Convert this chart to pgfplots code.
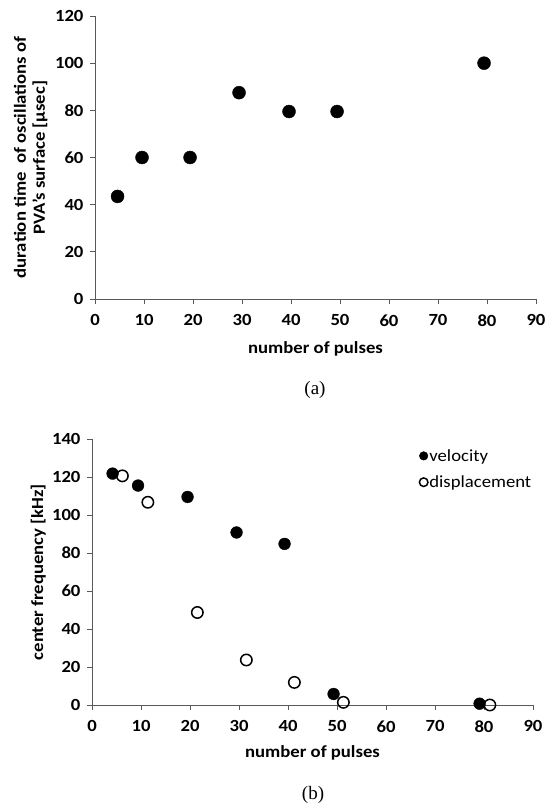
\documentclass[border=0pt]{standalone}
\usepackage{fontspec}
\setmainfont{Carlito}[FakeStretch=1.1]
\newfontfamily\serif{Liberation Serif}
\usepackage{pgfplots}
\pgfplotsset{compat=1.18}
\begin{document}
\begin{tikzpicture}
\useasboundingbox (0pt,0pt) rectangle (545pt,-809pt);
\pgfplotsset{
 common/.style={
  scale only axis, axis lines=left, axis line style={-, black!65, line width=0.8pt},
  tick align=outside, major tick length=5pt, tick style={black!65, line width=0.7pt},
  xmin=0, xmax=90, xtick={0,10,...,90}, ymin=0,
  ticklabel style={font=\fontsize{17}{20}\selectfont\bfseries},
  /pgf/number format/assume math mode=true,
  xticklabel style={yshift=-7pt}, yticklabel style={xshift=-3pt},
  label style={font=\fontsize{17}{19}\selectfont\bfseries},
  clip=false,
 }
}
\begin{axis}[common, at={(95pt,-299pt)}, anchor=south west, width=441pt, height=283pt,
  ymax=120, ytick={0,20,...,120},
  xlabel={number of pulses}, xlabel style={at={(axis description cs:0.5,-0.177)}, anchor=center},
  ylabel={duration time\ \ of oscillations of\\PVA's surface [µsec]},
  ylabel style={at={(axis description cs:-0.146,0.5)}, anchor=center, align=center}]
\addplot[only marks, mark=*, mark size=6.5pt, mark options={fill=black, draw=black}]
 coordinates {(4.6,43.5) (9.6,60) (19.4,60) (29.4,87.5) (39.6,79.5) (49.4,79.5) (79.4,100)};
\end{axis}
\begin{axis}[common, at={(92pt,-705pt)}, anchor=south west, width=441pt, height=266pt,
  ymax=140, ytick={0,20,...,140},
  xlabel={number of pulses}, xlabel style={at={(axis description cs:0.5,-0.180)}, anchor=center},
  ylabel={center frequency [kHz]},
  ylabel style={at={(axis description cs:-0.122,0.5)}, anchor=center},
  legend style={at={(axis description cs:0.741,0.966)}, anchor=north west, draw=none, fill=none,
    inner sep=0pt, row sep=11pt, column sep=0pt, font=\fontsize{17}{20}\selectfont, nodes={inner sep=1pt, anchor=west}},
  legend cell align=left,
  legend image code/.code={\path (-4.5pt,0pt) (4.5pt,0pt); \draw[#1] plot coordinates {(0pt,0pt)};},
  legend image post style={mark size=4.3pt}]
\addplot[only marks, mark=*, mark size=5.9pt, mark options={fill=black, draw=black}]
 coordinates {(4.2,121.8) (9.4,115.5) (19.5,109.5) (29.5,90.8) (39.3,84.8) (49.3,5.8) (79.1,0.7)};
\addlegendentry{velocity}
\addplot[only marks, mark=o, mark size=5.7pt, mark options={draw=black, line width=1.5pt}]
 coordinates {(6.2,120.6) (11.4,106.7) (21.5,48.7) (31.5,23.7) (41.3,11.9) (51.3,1.4) (81.2,0)};
\addlegendentry{displacement}
\end{axis}
\node[font=\serif\fontsize{19}{22}\selectfont] at (315pt,-390pt) {(a)};
\node[font=\serif\fontsize{19}{22}\selectfont] at (313pt,-795pt) {(b)};
\end{tikzpicture}
\end{document}
